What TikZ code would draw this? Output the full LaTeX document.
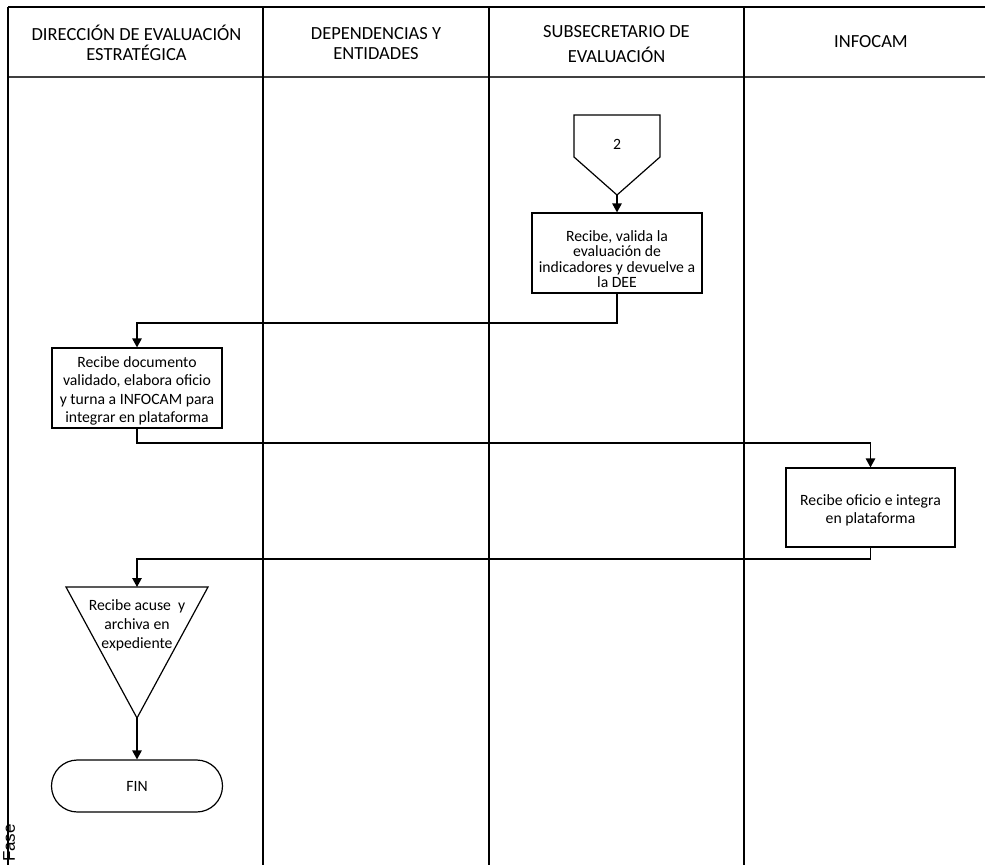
\documentclass[tikz,border=0pt]{standalone}
\usepackage{fontspec}
\setmainfont{Carlito}
\newfontfamily\fasefont{Liberation Sans}
\usetikzlibrary{arrows.meta}
\begin{document}
\begin{tikzpicture}[x=1pt,y=-1pt,
  lane/.style={line width=1.8pt, draw=black},
  hdr/.style={align=center, font=\fontsize{18.5}{20}\selectfont},
  txt/.style={align=center, font=\fontsize{15.7}{18.5}\selectfont},
  stepbox/.style={draw, line width=1.2pt, minimum width=170pt, minimum height=80pt, inner sep=0pt, txt},
  shp/.style={draw, line width=1.2pt},
  flow/.style={line width=1.3pt, -{Triangle[width=9.5pt,length=9pt]}}
]
\useasboundingbox (0,0) rectangle (985,865);

% swimlane frame
\draw[lane] (8,7) -- (985,7);
\draw[lane, draw=black!75] (8,77) -- (985,77);
\foreach \lx in {8,263,489,744} \draw[lane] (\lx,7) -- (\lx,865);

% lane headers
\node[hdr] (h1) at (136.5,43) {DIRECCIÓN DE EVALUACIÓN\\ESTRATÉGICA};
\node[hdr] (h2) at (376,44) {DEPENDENCIAS Y\\ENTIDADES};
\node[hdr, font=\fontsize{18.5}{25}\selectfont] (h3) at (616.5,44) {SUBSECRETARIO DE\\EVALUACIÓN};
\node[hdr] (h4) at (871,42) {INFOCAM};

\node[font=\fasefont\fontsize{17}{17}\selectfont, rotate=90] (fase) at (9,843) {Fase};

% off-page connector 2
\coordinate (c2tip) at (617,195);
\draw[shp] (574,115) -- (660,115) -- (660,157) -- (c2tip) -- (574,157) -- cycle;
\node[txt] (c2) at (617,144) {2};

% process steps
\node[stepbox, label={[txt, font=\fontsize{15.7}{15.5}\selectfont, yshift=-6pt]center:{Recibe, valida la\\evaluación de\\indicadores y devuelve a\\la DEE}}] (valida) at (617,253) {};
\node[stepbox, label={[txt, yshift=-3pt]center:{Recibe documento\\validado, elabora oficio\\y turna a INFOCAM para\\integrar en plataforma}}] (oficio) at (137,388) {};
\node[stepbox, minimum width=169pt, minimum height=79pt, label={[txt, yshift=-3pt]center:{Recibe oficio e integra\\en plataforma}}] (integra) at (870.5,507.5) {};

% archive (inverted triangle)
\coordinate (tritop) at (137,587);
\coordinate (tritip) at (137,718);
\draw[shp] (66,587) -- (208,587) -- (tritip) -- cycle;
\node[txt, font=\fontsize{15.7}{19}\selectfont] (acuse) at (137,625)
  {Recibe acuse~ y\\archiva en\\expediente};

% terminator
\node[shp, txt, rounded corners=25.9pt, minimum width=171pt, minimum height=52pt] (fin) at (137,786) {FIN};

% flow connectors
\coordinate (j1) at (617,323);
\coordinate (j2) at (137,443);
\coordinate (j3) at (870.5,559);
\draw[flow] (c2tip) -- (valida.north);
\draw[flow] (valida.south) -- (j1) -| (oficio.north);
\draw[flow] (oficio.south) -- (j2) -| (integra.north);
\draw[flow] (integra.south) -- (j3) -| (tritop);
\draw[flow] (tritip) -- (fin.north);
\end{tikzpicture}
\end{document}
